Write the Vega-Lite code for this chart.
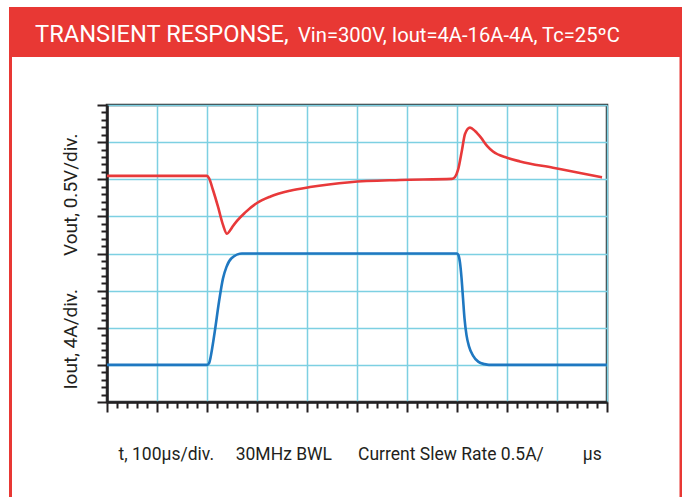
{
  "$schema": "https://vega.github.io/schema/vega-lite/v6.json",
  "width": 500,
  "height": 297,
  "autosize": {"type": "none"},
  "padding": {"left": 107, "top": 105, "right": 75, "bottom": 95},
  "background": "white",
  "config": {
    "view": {"stroke": "#333333", "strokeWidth": 2.5},
    "font": "Roboto"
  },
  "resolve": {"axis": {"x": "independent", "y": "independent"}},
  "layer": [
    {
      "data": {
        "values": [
          {"series": "Vout", "t": 0, "div": 6.09},
          {"series": "Vout", "t": 100, "div": 6.09},
          {"series": "Vout", "t": 200, "div": 6.09},
          {"series": "Vout", "t": 204, "div": 6.03},
          {"series": "Vout", "t": 212, "div": 5.71},
          {"series": "Vout", "t": 222, "div": 5.26},
          {"series": "Vout", "t": 232, "div": 4.77},
          {"series": "Vout", "t": 240, "div": 4.53},
          {"series": "Vout", "t": 246, "div": 4.62},
          {"series": "Vout", "t": 252, "div": 4.74},
          {"series": "Vout", "t": 260, "div": 4.88},
          {"series": "Vout", "t": 276, "div": 5.1},
          {"series": "Vout", "t": 300, "div": 5.36},
          {"series": "Vout", "t": 326, "div": 5.53},
          {"series": "Vout", "t": 366, "div": 5.69},
          {"series": "Vout", "t": 406, "div": 5.79},
          {"series": "Vout", "t": 486, "div": 5.92},
          {"series": "Vout", "t": 586, "div": 5.98},
          {"series": "Vout", "t": 690, "div": 6.01},
          {"series": "Vout", "t": 696, "div": 6.06},
          {"series": "Vout", "t": 702, "div": 6.25},
          {"series": "Vout", "t": 710, "div": 6.79},
          {"series": "Vout", "t": 716, "div": 7.22},
          {"series": "Vout", "t": 726, "div": 7.39},
          {"series": "Vout", "t": 736, "div": 7.3},
          {"series": "Vout", "t": 748, "div": 7.12},
          {"series": "Vout", "t": 760, "div": 6.9},
          {"series": "Vout", "t": 772, "div": 6.75},
          {"series": "Vout", "t": 800, "div": 6.58},
          {"series": "Vout", "t": 826, "div": 6.48},
          {"series": "Vout", "t": 892, "div": 6.31},
          {"series": "Vout", "t": 946, "div": 6.17},
          {"series": "Vout", "t": 990, "div": 6.05},
          {"series": "Iout", "t": 0, "div": 1.0},
          {"series": "Iout", "t": 100, "div": 1.0},
          {"series": "Iout", "t": 200, "div": 1.0},
          {"series": "Iout", "t": 204, "div": 1.04},
          {"series": "Iout", "t": 206, "div": 1.13},
          {"series": "Iout", "t": 211, "div": 1.5},
          {"series": "Iout", "t": 216, "div": 1.94},
          {"series": "Iout", "t": 224, "div": 2.7},
          {"series": "Iout", "t": 232, "div": 3.33},
          {"series": "Iout", "t": 239, "div": 3.64},
          {"series": "Iout", "t": 249, "div": 3.87},
          {"series": "Iout", "t": 270, "div": 4.0},
          {"series": "Iout", "t": 500, "div": 4.0},
          {"series": "Iout", "t": 700, "div": 4.0},
          {"series": "Iout", "t": 703, "div": 3.95},
          {"series": "Iout", "t": 706, "div": 3.75},
          {"series": "Iout", "t": 709, "div": 3.35},
          {"series": "Iout", "t": 712, "div": 2.8},
          {"series": "Iout", "t": 715, "div": 2.25},
          {"series": "Iout", "t": 719, "div": 1.8},
          {"series": "Iout", "t": 724, "div": 1.5},
          {"series": "Iout", "t": 732, "div": 1.25},
          {"series": "Iout", "t": 743, "div": 1.08},
          {"series": "Iout", "t": 755, "div": 1.02},
          {"series": "Iout", "t": 764, "div": 1.0},
          {"series": "Iout", "t": 900, "div": 1.0},
          {"series": "Iout", "t": 1000, "div": 1.0}
        ]
      },
      "mark": {"type": "line", "strokeWidth": 2.6, "interpolate": "monotone"},
      "encoding": {
        "x": {
          "field": "t",
          "type": "quantitative",
          "scale": {"domain": [0, 1000], "nice": false, "zero": false},
          "axis": {
            "values": [0,20,40,60,80,100,120,140,160,180,200,220,240,260,280,300,320,340,360,380,400,420,440,460,480,500,520,540,560,580,600,620,640,660,680,700,720,740,760,780,800,820,840,860,880,900,920,940,960,980,1000],
            "labels": false,
            "domain": true,
            "domainColor": "#231f20",
            "domainWidth": 2.5,
            "ticks": true,
            "tickColor": "#231f20",
            "tickWidth": 2,
            "tickSize": {"condition": {"test": "datum.value % 100 === 0", "value": 10}, "value": 6},
            "grid": true,
            "gridColor": "#7dd0e2",
            "gridWidth": 1.5,
            "gridOpacity": {"condition": {"test": "datum.value % 100 === 0", "value": 1}, "value": 0},
            "title": "t, 100µs/div.\u00a0\u00a0\u00a0\u00a0 30MHz BWL\u00a0\u00a0\u00a0\u00a0\u00a0 Current Slew Rate 0.5A/\u00a0\u00a0\u00a0\u00a0\u00a0\u00a0\u00a0\u00a0 µs",
            "titleFont": "Roboto",
            "titleFontSize": 17.5,
            "titleFontWeight": "normal",
            "titleColor": "#231f20",
            "titleAnchor": "start",
            "titleAlign": "left",
            "titleBaseline": "alphabetic",
            "titleX": 11,
            "titleY": 57
          }
        },
        "y": {
          "field": "div",
          "type": "quantitative",
          "scale": {"domain": [0, 8], "nice": false, "zero": false},
          "axis": {
            "values": [0,0.2,0.4,0.6,0.8,1,1.2,1.4,1.6,1.8,2,2.2,2.4,2.6,2.8,3,3.2,3.4,3.6,3.8,4,4.2,4.4,4.6,4.8,5,5.2,5.4,5.6,5.8,6,6.2,6.4,6.6,6.8,7,7.2,7.4,7.6,7.8,8],
            "labels": false,
            "domain": true,
            "domainColor": "#231f20",
            "domainWidth": 2.5,
            "ticks": true,
            "tickColor": "#231f20",
            "tickWidth": 2,
            "tickSize": {"condition": {"test": "abs(datum.value - round(datum.value)) < 0.01", "value": 10}, "value": 6},
            "grid": true,
            "gridColor": "#7dd0e2",
            "gridWidth": 1.5,
            "gridOpacity": {"condition": {"test": "abs(datum.value - round(datum.value)) < 0.01", "value": 1}, "value": 0},
            "title": "Iout, 4A/div.\u00a0\u00a0\u00a0\u00a0\u00a0\u00a0 Vout, 0.5V/div.",
            "titleFont": "Roboto",
            "titleFontSize": 19,
            "titleFontWeight": "normal",
            "titleColor": "#231f20",
            "titleAngle": 270,
            "titleAlign": "center",
            "titleBaseline": "middle",
            "titleX": -37,
            "titleY": 156
          }
        },
        "color": {
          "field": "series",
          "type": "nominal",
          "scale": {"domain": ["Vout", "Iout"], "range": ["#e8393a", "#1f78c1"]},
          "legend": null
        }
      }
    },
    {
      "data": {"values": [{}]},
      "mark": {"type": "rect", "color": "#e83834"},
      "encoding": {
        "x": {"datum": -196, "type": "quantitative", "axis": null},
        "x2": {"datum": 1160},
        "y": {"datum": 9.29, "type": "quantitative", "axis": null},
        "y2": {"datum": 10.64}
      }
    },
    {
      "data": {"values": [{}]},
      "mark": {"type": "rule", "color": "#e83834", "strokeWidth": 3},
      "encoding": {
        "x": {"datum": -193, "type": "quantitative", "axis": null},
        "y": {"datum": 9.4, "type": "quantitative", "axis": null},
        "y2": {"datum": -3}
      }
    },
    {
      "data": {"values": [{}]},
      "mark": {"type": "rule", "color": "#e83834", "strokeWidth": 3},
      "encoding": {
        "x": {"datum": 1148, "type": "quantitative", "axis": null},
        "y": {"datum": 9.4, "type": "quantitative", "axis": null},
        "y2": {"datum": -3}
      }
    },
    {
      "data": {"values": [{}]},
      "mark": {"type": "text", "text": "TRANSIENT RESPONSE,", "color": "white", "font": "Roboto", "fontSize": 23.7, "align": "left", "baseline": "alphabetic"},
      "encoding": {
        "x": {"datum": -144, "type": "quantitative", "axis": null},
        "y": {"datum": 9.7, "type": "quantitative", "axis": null}
      }
    },
    {
      "data": {"values": [{}]},
      "mark": {"type": "text", "text": "Vin=300V, Iout=4A-16A-4A, Tc=25ºC", "color": "white", "font": "Roboto", "fontSize": 20.2, "align": "left", "baseline": "alphabetic"},
      "encoding": {
        "x": {"datum": 382, "type": "quantitative", "axis": null},
        "y": {"datum": 9.7, "type": "quantitative", "axis": null}
      }
    }
  ]
}
